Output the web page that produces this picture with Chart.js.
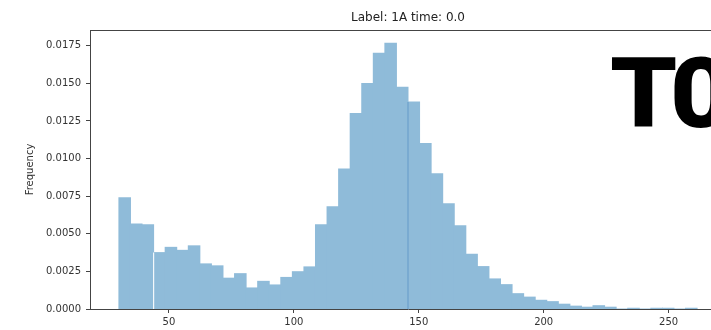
<!DOCTYPE html>
<html>
<head>
<meta charset="utf-8">
<script src="https://cdn.jsdelivr.net/npm/chart.js@4"></script>
<style>
  html, body { margin: 0; padding: 0; background: #fff; overflow: hidden; }
  #wrap { position: absolute; left: 0; top: 0; width: 760px; height: 330px; }
  #stamp {
    position: absolute; left: 611px; top: 47px;
    font: 700 94px Roboto, sans-serif; line-height: 94px; color: #000;
    -webkit-text-stroke: 2px #000; letter-spacing: -5px;
    transform: scaleX(1.12); transform-origin: left top; white-space: nowrap;
  }
</style>
</head>
<body>
<div id="wrap"><canvas id="chart" width="760" height="330"></canvas></div>
<div id="stamp">T0</div>
<script>
// histogram bins (50 bins from 30)
const binStart = 30;
const binWidth = 4.628;
const frequency = [
  0.0074, 0.00565, 0.0056, 0.00375, 0.0041, 0.0039, 0.0042, 0.0030, 0.00287, 0.00205,
  0.00235, 0.0014, 0.00184, 0.0016, 0.0021, 0.00248, 0.0028, 0.0056, 0.0068, 0.0093,
  0.0130, 0.0150, 0.0170, 0.01767, 0.01474, 0.01376, 0.0110, 0.0090, 0.0070, 0.00554,
  0.00364, 0.00282, 0.0020, 0.00162, 0.00102, 0.00079, 0.00058, 0.00049, 0.00032, 0.00019,
  0.00012, 0.00022, 0.00012, 0, 0.00005, 0, 0.00005, 0.00005, 0, 0.00005
];
const xTicks = [50, 100, 150, 200, 250];
const yTicks = [0, 0.0025, 0.005, 0.0075, 0.01, 0.0125, 0.015, 0.0175];
const xRange = [18.43, 272.97];
const yRange = [0, 0.01855];
// bin edges where the original render shows a seam
const lightSeam = 3;
const darkSeam = 25;

const points = frequency.map((v, i) => ({ x: binStart + (i + 0.5) * binWidth, y: v }));

const frame = {
  id: 'frame',
  afterDatasetsDraw(c) {
    const { ctx, chartArea: a, scales: { x, y } } = c;
    ctx.save();
    ctx.lineWidth = 1.2;
    let px = x.getPixelForValue(binStart + lightSeam * binWidth);
    ctx.strokeStyle = 'rgba(255,255,255,0.9)';
    ctx.beginPath();
    ctx.moveTo(px, a.bottom);
    ctx.lineTo(px, y.getPixelForValue(frequency[lightSeam]));
    ctx.stroke();
    px = x.getPixelForValue(binStart + darkSeam * binWidth);
    ctx.strokeStyle = 'rgb(108,160,204)';
    ctx.beginPath();
    ctx.moveTo(px, a.bottom);
    ctx.lineTo(px, y.getPixelForValue(frequency[darkSeam]));
    ctx.stroke();
    ctx.strokeStyle = '#444';
    ctx.lineWidth = 1;
    ctx.beginPath();
    ctx.moveTo(a.left, a.top + 0.5);
    ctx.lineTo(a.right, a.top + 0.5);
    ctx.stroke();
    ctx.restore();
  }
};

const tickFont = { family: 'DejaVu Sans', size: 10 };

new Chart(document.getElementById('chart'), {
  type: 'bar',
  data: {
    datasets: [{
      label: 'Frequency',
      data: points,
      backgroundColor: '#8fbbd9',
      borderWidth: 0,
      barPercentage: 1,
      categoryPercentage: 1,
      inflateAmount: 0.5
    }]
  },
  options: {
    responsive: false,
    animation: false,
    layout: { padding: { left: 0, right: 34, top: 0, bottom: 0 } },
    plugins: {
      legend: { display: false },
      tooltip: { enabled: false },
      title: {
        display: true,
        text: 'Label: 1A time: 0.0',
        fullSize: false,
        color: '#222',
        font: { family: 'DejaVu Sans', size: 12, weight: 'normal' },
        padding: { top: 10.8, bottom: 4.8 }
      }
    },
    scales: {
      x: {
        type: 'linear',
        min: xRange[0],
        max: xRange[1],
        offset: false,
        z: 1,
        afterBuildTicks: s => { s.ticks = xTicks.map(v => ({ value: v })); },
        afterFit: s => { s.height = 21; },
        ticks: { color: '#333', font: tickFont, padding: 3, maxRotation: 0 },
        grid: { offset: false, drawOnChartArea: false, tickLength: 4, color: '#444' },
        border: { color: '#444', width: 1 }
      },
      y: {
        min: yRange[0],
        max: yRange[1],
        afterBuildTicks: s => { s.ticks = yTicks.map(v => ({ value: v })); },
        afterFit: s => { s.width = 90; },
        ticks: { color: '#333', font: tickFont, padding: 5, callback: v => v.toFixed(4) },
        grid: { drawOnChartArea: false, tickLength: 4, color: '#444' },
        border: { color: '#444', width: 1 },
        title: {
          display: true,
          text: 'Frequency',
          color: '#333',
          font: tickFont,
          padding: { top: 24, bottom: 0 }
        }
      }
    }
  },
  plugins: [frame]
});
</script>
</body>
</html>
